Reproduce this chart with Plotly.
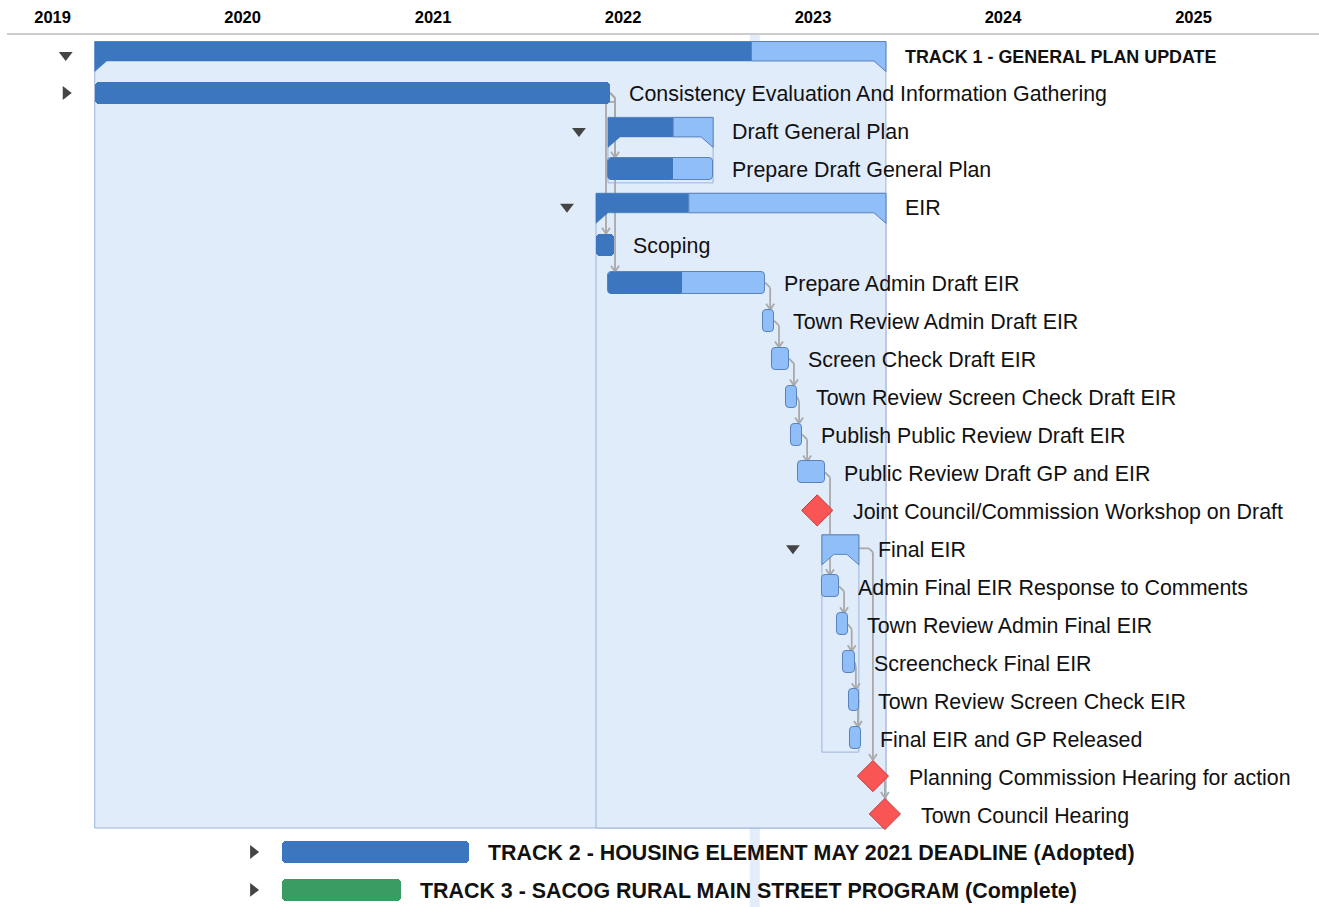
import pandas as pd
import plotly.graph_objects as go

# ------------------------------------------------------------------ data
task_names = [
    "TRACK 1 - GENERAL PLAN UPDATE",
    "Consistency Evaluation And Information Gathering",
    "Draft General Plan",
    "Prepare Draft General Plan",
    "EIR",
    "Scoping",
    "Prepare Admin Draft EIR",
    "Town Review Admin Draft EIR",
    "Screen Check Draft EIR",
    "Town Review Screen Check Draft EIR",
    "Publish Public Review Draft EIR",
    "Public Review Draft GP and EIR",
    "Joint Council/Commission Workshop on Draft",
    "Final EIR",
    "Admin Final EIR Response to Comments",
    "Town Review Admin Final EIR",
    "Screencheck Final EIR",
    "Town Review Screen Check EIR",
    "Final EIR and GP Released",
    "Planning Commission Hearing for action",
    "Town Council Hearing",
    "TRACK 2 - HOUSING ELEMENT MAY 2021 DEADLINE (Adopted)",
    "TRACK 3 - SACOG RURAL MAIN STREET PROGRAM (Complete)",
]
task_starts = [
    "2019-03-23", "2019-03-23", "2021-12-03", "2021-12-03", "2021-11-10",
    "2021-11-10", "2021-12-03", "2022-09-27", "2022-10-14", "2022-11-10",
    "2022-11-19", "2022-12-03", "2023-01-09", "2023-01-18", "2023-01-18",
    "2023-02-16", "2023-02-27", "2023-03-11", "2023-03-13", "2023-04-26",
    "2023-05-19", "2020-03-17", "2020-03-17",
]
task_ends = [
    "2023-05-21", "2021-12-07", "2022-06-23", "2022-06-23", "2023-05-21",
    "2021-12-14", "2022-10-01", "2022-10-18", "2022-11-16", "2022-12-01",
    "2022-12-11", "2023-01-24", "2023-01-09", "2023-03-30", "2023-02-20",
    "2023-03-09", "2023-03-22", "2023-03-30", "2023-04-03", "2023-04-26",
    "2023-05-19", "2021-03-11", "2020-10-31",
]
task_progress = [0.83, 1.0, 0.62, 0.62, 0.32, 1.0, 0.47, 0, 0, 0, 0, 0, 0,
                 0, 0, 0, 0, 0, 0, 0, 0, 1.0, 1.0]
task_kinds = ["summary", "task", "summary", "task", "summary", "task", "task",
              "task", "task", "task", "task", "task", "milestone", "summary",
              "task", "task", "task", "task", "task", "milestone", "milestone",
              "project", "project"]
task_toggles = ["open", "closed", "open", "", "open", "", "", "", "", "", "",
                "", "", "open", "", "", "", "", "", "", "", "closed", "closed"]

link_from = [1, 1, 1, 6, 7, 8, 9, 10, 11, 14, 15, 16, 17, 13, 19]
link_to = [3, 5, 6, 7, 8, 9, 10, 11, 14, 15, 16, 17, 18, 19, 20]

group_rows = [0, 4, 2, 13]
group_last_rows = [20, 20, 3, 18]

year_ticks = ["2019-01-01", "2020-01-01", "2021-01-01", "2022-01-01",
              "2023-01-01", "2024-01-01", "2025-01-01"]
year_labels = ["2019", "2020", "2021", "2022", "2023", "2024", "2025"]
today = "2022-09-11"

# ------------------------------------------------------------------ style
W, H = 1319, 907
TOP = 34
X_LO = pd.Timestamp("2018-09-22")
X_HI = pd.Timestamp("2025-08-30")
PX_PER_DAY = W / ((X_HI - X_LO) / pd.Timedelta(days=1))
ROW0_PX, ROW_PX = 55.0, 37.95
Y_TOP = -(ROW0_PX - TOP) / ROW_PX
Y_BOT = (H - ROW0_PX) / ROW_PX

DARK = "#3b76be"
LIGHT = "#90bef9"
BORDER = "#5b82b9"
BOX_FILL = "#e1ecfb"
BOX_LINE = "#9cb3d8"
LINK = "#a9a9a9"
RED = "#fa5555"
RED_LINE = "#c03a3a"
GREEN = "#3a9c63"
ICON = "#444444"
ROW_COLOR = {22: GREEN}
LABEL_SIZE = {0: 17.9, 21: 21.4, 22: 21.4}
BOLD_ROWS = {0, 21, 22}
FONT = "Liberation Sans, Arial, Helvetica, sans-serif"


def dx(px):
    return pd.Timedelta(days=px / PX_PER_DAY)


def dy(px):
    return px / ROW_PX


S = [pd.Timestamp(s) for s in task_starts]
E = [pd.Timestamp(e) for e in task_ends]
P = [s + (e - s) * p for s, e, p in zip(S, E, task_progress)]
N = len(task_names)

fig = go.Figure()
shapes = []

# group background boxes
for g, last in zip(group_rows, group_last_rows):
    shapes.append(dict(type="rect", layer="below", xref="x", yref="y",
                       x0=S[g], x1=E[g], y0=g - dy(13.5), y1=last + dy(14),
                       fillcolor=BOX_FILL, line=dict(color=BOX_LINE, width=1)))

# today band
T = pd.Timestamp(today)
shapes.append(dict(type="rect", layer="below", xref="x", yref="paper",
                   x0=T - dx(5), x1=T + dx(5), y0=0, y1=1,
                   fillcolor="rgba(170,200,245,0.32)", line=dict(width=0)))


# dependency links
def link_points(a, b):
    ya = a
    xe = S[a] + dx(10) if task_kinds[a] == "milestone" else E[a]
    if task_kinds[b] == "milestone":
        xt = S[b]
        top = b - dy(16)
        if xt > xe + dx(4):
            pts = [(xe, ya), (xt - dx(4), ya), (xt, ya + dy(4)), (xt, top)]
        else:
            pts = [(xe, ya), (xt, ya + dy(5)), (xt, top)]
    else:
        top = b - dy(11)
        if S[b] < xe - dx(12):
            xj = xe + dx(5)
            xt = S[b] + dx(10)
            pts = [(xe, ya), (xj, ya + dy(5)), (xj, ya + dy(9)),
                   (xt, ya + dy(9)), (xt, top)]
        else:
            xt = min(xe + dx(5), E[b] - dx(3))
            pts = [(xe, ya), (xt, ya + dy(5)), (xt, top)]
    return pts, xt, top


for a, b in zip(link_from, link_to):
    pts, xt, top = link_points(a, b)
    segs = list(zip(pts[:-1], pts[1:]))
    segs.append(((xt - dx(4), top - dy(6)), (xt, top)))
    segs.append(((xt + dx(4), top - dy(6)), (xt, top)))
    for (x0, y0), (x1, y1) in segs:
        shapes.append(dict(type="line", layer="below", xref="x", yref="y",
                           x0=x0, y0=y0, x1=x1, y1=y1,
                           line=dict(color=LINK, width=1.8)))

# header rule
shapes.append(dict(type="line", xref="paper", yref="paper", x0=7 / W, x1=1,
                   y0=1, y1=1, line=dict(color="#cccccc", width=2)))

# ---------------- task bars
BAR_H = dy(22)
bar_rows = [i for i in range(N) if task_kinds[i] in ("task", "project")]


def ms(td):
    return td / pd.Timedelta(milliseconds=1)


light = [i for i in bar_rows if task_progress[i] < 1]
fig.add_trace(go.Bar(
    orientation="h", y=light, base=[S[i] for i in light],
    x=[ms(E[i] - S[i]) for i in light], width=BAR_H,
    marker=dict(color=LIGHT, line=dict(color=BORDER, width=1), cornerradius=4),
    hoverinfo="skip"))

dark = [i for i in bar_rows if task_progress[i] > 0]
fig.add_trace(go.Bar(
    orientation="h", y=dark, base=[S[i] for i in dark],
    x=[ms(P[i] - S[i]) for i in dark], width=BAR_H,
    marker=dict(color=[ROW_COLOR.get(i, DARK) for i in dark],
                line=dict(width=0), cornerradius=4),
    hoverinfo="skip"))

partial = [i for i in dark if task_progress[i] < 1]
fig.add_trace(go.Bar(
    orientation="h", y=partial, base=[S[i] + dx(6) for i in partial],
    x=[ms(P[i] - S[i] - dx(6)) for i in partial], width=BAR_H - dy(1),
    marker=dict(color=DARK, line=dict(width=0)),
    hoverinfo="skip"))

# ---------------- summary bars
TW = dx(12)
for i in range(N):
    if task_kinds[i] != "summary":
        continue
    top, rb, tip = i - dy(13.5), i + dy(6), i + dy(16.5)
    s, e, p = S[i], E[i], P[i]
    if p > s + TW:
        fig.add_trace(go.Scatter(
            x=[s, p, p, s + TW, s, s], y=[top, top, rb, rb, tip, top],
            mode="lines", fill="toself", fillcolor=DARK,
            line=dict(color=DARK, width=0.5), hoverinfo="skip"))
        lx = [p, e, e, e - TW, p, p]
        ly = [top, top, tip, rb, rb, top]
    else:
        lx = [s, e, e, e - TW, s + TW, s, s]
        ly = [top, top, tip, rb, rb, tip, top]
    fig.add_trace(go.Scatter(
        x=lx, y=ly, mode="lines", fill="toself", fillcolor=LIGHT,
        line=dict(color=BORDER, width=1), hoverinfo="skip"))

# ---------------- milestones
mil = [i for i in range(N) if task_kinds[i] == "milestone"]
fig.add_trace(go.Scatter(
    x=[S[i] for i in mil], y=mil, mode="markers",
    marker=dict(symbol="diamond", size=24, color=RED,
                line=dict(color=RED_LINE, width=1)),
    hoverinfo="skip"))

# ---------------- expand / collapse icons
for state, sym in (("open", "triangle-down"), ("closed", "triangle-right")):
    rows = [i for i in range(N) if task_toggles[i] == state]
    fig.add_trace(go.Scatter(
        x=[S[i] - dx(29) for i in rows], y=rows, mode="markers",
        marker=dict(symbol=sym, size=12, color=ICON, line=dict(width=0)),
        hoverinfo="skip"))

# ---------------- labels
annotations = []
for i in range(N):
    is_m = task_kinds[i] == "milestone"
    txt = task_names[i]
    if i in BOLD_ROWS:
        txt = "<b>" + txt + "</b>"
    annotations.append(dict(
        x=S[i] if is_m else E[i], y=i, xref="x", yref="y", text=txt,
        showarrow=False, xanchor="left", yanchor="middle",
        xshift=34 if is_m else 17, yshift=-1.5,
        font=dict(family=FONT, size=LABEL_SIZE.get(i, 21.4), color="#111111")))

fig.update_layout(
    width=W, height=H,
    margin=dict(l=0, r=0, t=TOP, b=0, pad=0),
    paper_bgcolor="white", plot_bgcolor="white",
    showlegend=False, barmode="overlay", bargap=0,
    shapes=shapes, annotations=annotations,
    xaxis=dict(type="date", range=[X_LO, X_HI], side="top",
               tickvals=year_ticks, ticktext=year_labels,
               tickfont=dict(family="Liberation Sans, Arial", size=16.5,
                             color="#000000", weight="bold"),
               ticklabelstandoff=7,
               showgrid=False, zeroline=False, showline=False, ticks="",
               fixedrange=True),
    yaxis=dict(range=[Y_BOT, Y_TOP], visible=False, showgrid=False,
               zeroline=False, fixedrange=True),
)

fig.write_html("out.html", config={"displayModeBar": False},
               post_script="document.body.style.margin='0';")
